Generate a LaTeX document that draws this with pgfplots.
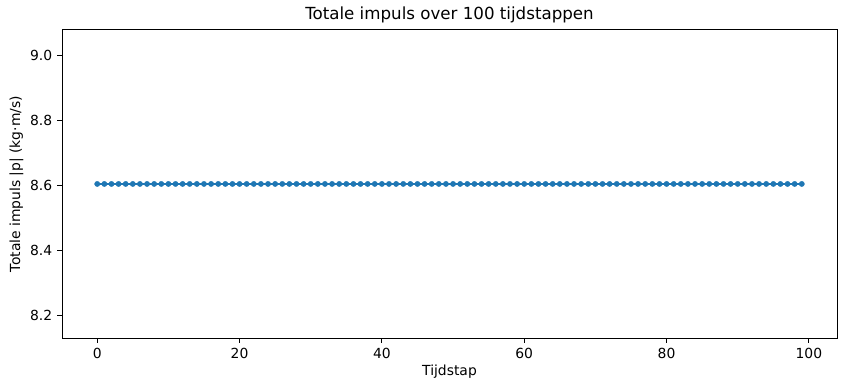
\documentclass[border=0pt]{standalone}
\usepackage{pgfplots}
\pgfplotsset{compat=1.18}
\usepackage{fontspec}
\setmainfont{DejaVu Sans}
\definecolor{tabblue}{HTML}{1F77B4}
\begin{document}
\begin{tikzpicture}[x=1pt,y=1pt]
\begin{axis}[
  at={(0,0)}, anchor=south west,
  scale only axis,
  width=558pt, height=221.8pt,
  xmin=-4.95, xmax=103.95,
  ymin=8.132, ymax=9.079,
  xtick={0,20,40,60,80,100},
  ytick={8.2,8.4,8.6,8.8,9.0},
  yticklabel style={/pgf/number format/.cd, fixed, fixed zerofill, precision=1},
  /pgf/number format/assume math mode=true,
  tick align=outside,
  major tick length=3.5pt,
  every tick/.style={black, line width=0.8pt},
  axis line style={line width=0.7pt},
  xtick pos=bottom, ytick pos=left,
  tick label style={font=\fontsize{10}{12}\selectfont},
  label style={font=\fontsize{10}{12}\selectfont},
  title style={font=\fontsize{12}{14}\selectfont, yshift=-4.5pt},
  title={Totale impuls over 100 tijdstappen},
  xlabel={Tijdstap},
  ylabel={Totale impuls |p| (kg·m/s)},
  xlabel style={yshift=2pt},
  ylabel style={yshift=-2pt},
]
\addplot[tabblue, line width=1.5pt, mark=*, mark size=1.9pt, mark options={fill=tabblue, draw=tabblue, line width=0.3pt}] coordinates {
(0,8.6056)(1,8.6056)(2,8.6056)(3,8.6056)(4,8.6056)(5,8.6056)(6,8.6056)(7,8.6056)(8,8.6056)(9,8.6056)
(10,8.6056)(11,8.6056)(12,8.6056)(13,8.6056)(14,8.6056)(15,8.6056)(16,8.6056)(17,8.6056)(18,8.6056)(19,8.6056)
(20,8.6056)(21,8.6056)(22,8.6056)(23,8.6056)(24,8.6056)(25,8.6056)(26,8.6056)(27,8.6056)(28,8.6056)(29,8.6056)
(30,8.6056)(31,8.6056)(32,8.6056)(33,8.6056)(34,8.6056)(35,8.6056)(36,8.6056)(37,8.6056)(38,8.6056)(39,8.6056)
(40,8.6056)(41,8.6056)(42,8.6056)(43,8.6056)(44,8.6056)(45,8.6056)(46,8.6056)(47,8.6056)(48,8.6056)(49,8.6056)
(50,8.6056)(51,8.6056)(52,8.6056)(53,8.6056)(54,8.6056)(55,8.6056)(56,8.6056)(57,8.6056)(58,8.6056)(59,8.6056)
(60,8.6056)(61,8.6056)(62,8.6056)(63,8.6056)(64,8.6056)(65,8.6056)(66,8.6056)(67,8.6056)(68,8.6056)(69,8.6056)
(70,8.6056)(71,8.6056)(72,8.6056)(73,8.6056)(74,8.6056)(75,8.6056)(76,8.6056)(77,8.6056)(78,8.6056)(79,8.6056)
(80,8.6056)(81,8.6056)(82,8.6056)(83,8.6056)(84,8.6056)(85,8.6056)(86,8.6056)(87,8.6056)(88,8.6056)(89,8.6056)
(90,8.6056)(91,8.6056)(92,8.6056)(93,8.6056)(94,8.6056)(95,8.6056)(96,8.6056)(97,8.6056)(98,8.6056)(99,8.6056)
};
\end{axis}
\pgfresetboundingbox
\path (-44.64pt,-38.16pt) rectangle (564.48pt,243.36pt);
\end{tikzpicture}
\end{document}
